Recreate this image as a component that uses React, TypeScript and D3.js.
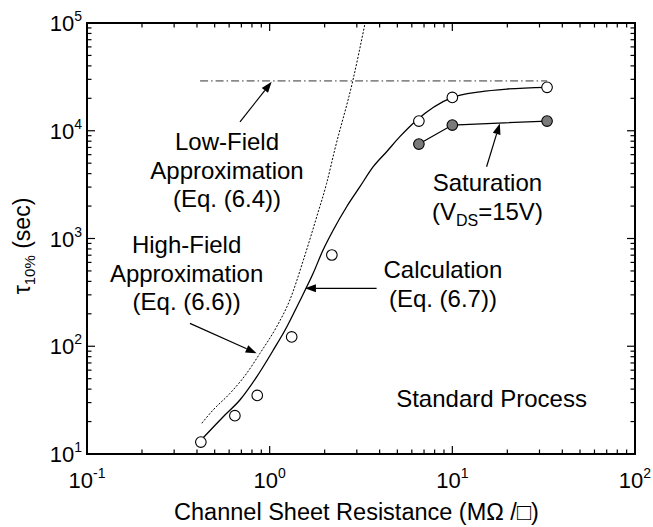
import React from 'react';
import * as d3 from 'd3';

const W = 653, H = 527;
const PL = 87, PR = 635, PT = 23, PB = 454;

// measured (open circles)
const measuredX = [0.42, 0.645, 0.855, 1.32, 2.19, 6.56, 10, 33];
const measuredY = [12.9, 22.7, 35, 122, 703, 12300, 20400, 25300];
// saturation (filled circles)
const saturationX = [6.56, 10, 33];
const saturationY = [7530, 11300, 12300];
// calculation Eq. (6.7)
const calcX = [0.43, 0.557, 0.687, 0.849, 1.046, 1.24, 1.41, 1.73, 1.96, 2.23, 2.64, 3.121, 3.69, 4.37, 5.16, 6.24, 10, 14.2, 20, 33];
const calcY = [14, 22.2, 31.7, 52, 92, 151, 233, 475, 782, 1200, 1970, 3026, 4636, 6391, 8810, 12140, 20400, 23000, 24400, 25300];
// high-field approximation Eq. (6.6)
const highX = [0.425, 0.49, 0.607, 0.748, 0.885, 1.09, 1.29, 1.53, 1.81, 2.05, 2.27, 2.85, 3.33];
const highY = [19.3, 25.6, 36.6, 56, 86, 151, 269, 632, 1592, 3250, 6630, 29000, 100000];
// low-field approximation Eq. (6.4)
const lowX = [0.416, 33];
const lowY = [29000, 29000];

const xTickExps = [-1, 0, 1, 2];
const yTickExps = [1, 2, 3, 4, 5];

const xTitle = 'Channel Sheet Resistance (M\u03A9 /\u25A1)';

type Note = { x: number; y: number; lines: string[] };
const notes: Note[] = [
  { x: 0.584, y: 6620, lines: ['Low-Field', 'Approximation', '(Eq. (6.4))'] },
  { x: 0.351, y: 730, lines: ['High-Field', 'Approximation', '(Eq. (6.6))'] },
  { x: 15.56, y: 2780, lines: ['Saturation', 'VDS'] },
  { x: 8.88, y: 428, lines: ['Calculation', '(Eq. (6.7))'] },
  { x: 16.4, y: 27.3, lines: ['Standard Process'] },
];

type Arrow = { x1: number; y1: number; x2: number; y2: number };
const arrows: Arrow[] = [
  { x1: 0.688, y1: 12100, x2: 1.026, y2: 28500 },
  { x1: 0.366, y1: 163, x2: 0.849, y2: 86 },
  { x1: 3.85, y1: 345, x2: 1.56, y2: 345 },
  { x1: 15.4, y1: 4630, x2: 18.2, y2: 11700 },
];

const FONT = 'Arial, "Liberation Sans", Helvetica, sans-serif';

export default function App() {
  const x = d3.scaleLog().domain([0.1, 100]).range([PL, PR]);
  const y = d3.scaleLog().domain([10, 100000]).range([PB, PT]);

  const line = d3.line<[number, number]>().x(d => x(d[0])).y(d => y(d[1])).curve(d3.curveMonotoneX);
  const straight = d3.line<[number, number]>().x(d => x(d[0])).y(d => y(d[1]));

  const calcPath = line(calcX.map((v, i) => [v, calcY[i]]) as [number, number][]) || '';
  const highPath = line(highX.map((v, i) => [v, highY[i]]) as [number, number][]) || '';
  const lowPath = straight(lowX.map((v, i) => [v, lowY[i]]) as [number, number][]) || '';
  const satPath = straight(saturationX.map((v, i) => [v, saturationY[i]]) as [number, number][]) || '';

  const xMinor = x.ticks().filter(t => Math.abs(Math.log10(t) - Math.round(Math.log10(t))) > 1e-6);
  const yMinor = y.ticks().filter(t => Math.abs(Math.log10(t) - Math.round(Math.log10(t))) > 1e-6);
  const MAJ = 8, MIN = 4.5;

  const arrowEls = arrows.map((a, i) => {
    const x1 = x(a.x1), y1 = y(a.y1), x2 = x(a.x2), y2 = y(a.y2);
    const ang = Math.atan2(y2 - y1, x2 - x1);
    const L = 11, Wd = 4;
    const bx = x2 - L * Math.cos(ang), by = y2 - L * Math.sin(ang);
    const px = -Math.sin(ang) * Wd, py = Math.cos(ang) * Wd;
    return (
      <g key={i}>
        <line x1={x1} y1={y1} x2={bx} y2={by} stroke="#000" strokeWidth={1.2} />
        <path d={`M${x2},${y2}L${bx + px},${by + py}L${bx - px},${by - py}Z`} fill="#000" />
      </g>
    );
  });

  return (
    <svg width={W} height={H} style={{ position: 'absolute', left: 0, top: 0, background: '#fff' }} fontFamily={FONT}>
      <defs>
        <clipPath id="plot">
          <rect x={PL} y={PT} width={PR - PL} height={PB - PT} />
        </clipPath>
      </defs>
      <rect x={0} y={0} width={W} height={H} fill="#fff" />

      {/* ticks */}
      <g stroke="#000" strokeWidth={1.2}>
        {xTickExps.map(e => {
          const px = x(Math.pow(10, e));
          return (
            <g key={'xm' + e}>
              <line x1={px} x2={px} y1={PB} y2={PB - MAJ} />
              <line x1={px} x2={px} y1={PT} y2={PT + MAJ} />
            </g>
          );
        })}
        {xMinor.map((t, i) => (
          <g key={'xn' + i}>
            <line x1={x(t)} x2={x(t)} y1={PB} y2={PB - MIN} />
            <line x1={x(t)} x2={x(t)} y1={PT} y2={PT + MIN} />
          </g>
        ))}
        {yTickExps.map(e => {
          const py = y(Math.pow(10, e));
          return (
            <g key={'ym' + e}>
              <line x1={PL} x2={PL + MAJ} y1={py} y2={py} />
              <line x1={PR} x2={PR - MAJ} y1={py} y2={py} />
            </g>
          );
        })}
        {yMinor.map((t, i) => (
          <g key={'yn' + i}>
            <line x1={PL} x2={PL + MIN} y1={y(t)} y2={y(t)} />
            <line x1={PR} x2={PR - MIN} y1={y(t)} y2={y(t)} />
          </g>
        ))}
      </g>

      {/* curves */}
      <g clipPath="url(#plot)" fill="none">
        <path d={lowPath} stroke="#333" strokeWidth={1} strokeDasharray="8 3 1.5 3" />
        <path d={highPath} stroke="#000" strokeWidth={1} strokeDasharray="2 1.6" />
        <path d={calcPath} stroke="#000" strokeWidth={1.3} />
        <path d={satPath} stroke="#000" strokeWidth={1.3} />
      </g>

      {/* markers */}
      {measuredX.map((v, i) => (
        <circle key={'m' + i} cx={x(v)} cy={y(measuredY[i])} r={5.3} fill="#fff" stroke="#000" strokeWidth={1.1} />
      ))}
      {saturationX.map((v, i) => (
        <circle key={'s' + i} cx={x(v)} cy={y(saturationY[i])} r={5.3} fill="#7a7a7a" stroke="#000" strokeWidth={1.1} />
      ))}

      {arrowEls}

      {/* annotations */}
      <g fontSize={24} textAnchor="middle" fill="#000">
        {notes.map((n, i) => (
          <text key={i} x={x(n.x)} y={y(n.y)}>
            {n.lines.map((l, j) =>
              l === 'VDS' ? (
                <tspan key={j} x={x(n.x)} dy={j === 0 ? 0 : 29.5}>
                  (V<tspan fontSize={16} dy={6}>DS</tspan><tspan dy={-6}>=15V)</tspan>
                </tspan>
              ) : (
                <tspan key={j} x={x(n.x)} dy={j === 0 ? 0 : 28.5}>{l}</tspan>
              )
            )}
          </text>
        ))}
      </g>

      {/* frame */}
      <rect x={PL} y={PT} width={PR - PL} height={PB - PT} fill="none" stroke="#000" strokeWidth={2} />

      {/* tick labels */}
      <g fontSize={22} fill="#000">
        {yTickExps.map(e => (
          <text key={'yl' + e} x={PL - 5} y={y(Math.pow(10, e)) + 8} textAnchor="end">
            10<tspan fontSize={14} dy={-10}>{e}</tspan>
          </text>
        ))}
        {xTickExps.map(e => (
          <text key={'xl' + e} x={x(Math.pow(10, e))} y={PB + 34} textAnchor="middle">
            10<tspan fontSize={14} dy={-10}>{e}</tspan>
          </text>
        ))}
      </g>

      {/* axis titles */}
      <text x={356.5} y={520} fontSize={23.5} textAnchor="middle">{xTitle}</text>
      <text transform={`translate(30,246) rotate(-90)`} fontSize={23} textAnchor="middle">
        {'\u03C4'}<tspan fontSize={15} dy={5}>10%</tspan><tspan dy={-5}> (sec)</tspan>
      </text>
    </svg>
  );
}
